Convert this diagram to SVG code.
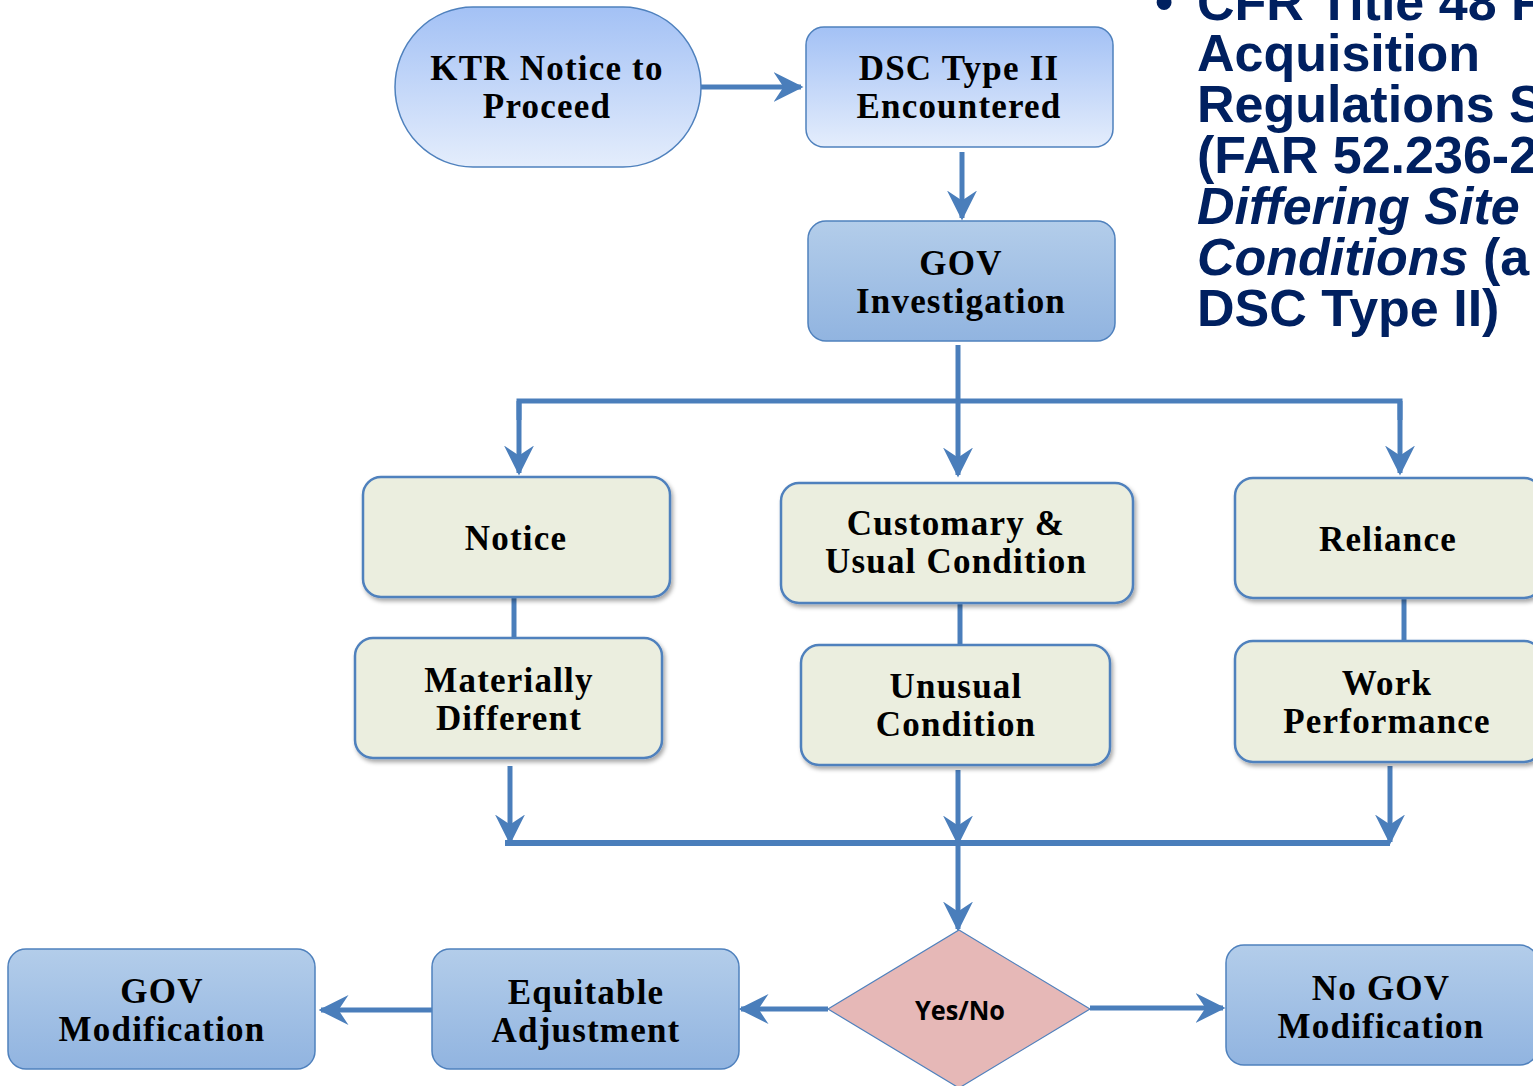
<svg xmlns="http://www.w3.org/2000/svg" width="1533" height="1086" viewBox="0 0 1533 1086">
<defs>
<linearGradient id="gLight" x1="0" y1="0" x2="0" y2="1"><stop offset="0" stop-color="#a3c1f5"/><stop offset="1" stop-color="#e4edfc"/></linearGradient>
<linearGradient id="gDark" x1="0" y1="0" x2="0" y2="1"><stop offset="0" stop-color="#b3cdea"/><stop offset="1" stop-color="#91b4e0"/></linearGradient>
<filter id="shadow" x="-10%" y="-10%" width="125%" height="130%"><feDropShadow dx="2" dy="3" stdDeviation="2" flood-color="#000" flood-opacity="0.35"/></filter>
<marker id="arr" viewBox="0 0 12 12" refX="11" refY="6" markerWidth="6" markerHeight="6" orient="auto" markerUnits="strokeWidth"><path d="M0,0 L12,6 L0,12 L4,6 z" fill="#4a7ebb"/></marker>
</defs>
<style>
.lt{fill:url(#gLight);stroke:#4f81bd;stroke-width:1.5}
.dk{fill:url(#gDark);stroke:#4f81bd;stroke-width:1.5}
.gr{fill:#ebeedf;stroke:#4f81bd;stroke-width:2.5;filter:url(#shadow)}
.t{font-family:"Liberation Serif","Times New Roman",serif;font-weight:bold;font-size:35px;letter-spacing:1.2px;fill:#000;text-anchor:middle}
.c{stroke:#4a7ebb;stroke-width:5;fill:none}
.ca{stroke:#4a7ebb;stroke-width:5;fill:none;marker-end:url(#arr)}
.h{font-family:"Liberation Sans",Arial,sans-serif;font-weight:bold;font-size:52px;fill:#002060}
</style>
<rect width="1533" height="1086" fill="#fff"/>
<g id="connectors">
<line class="ca" x1="701" y1="87" x2="801" y2="87"/>
<line class="ca" x1="962" y1="152" x2="962" y2="218"/>
<line class="c" x1="958" y1="345" x2="958" y2="401"/>
<polyline class="c" points="519,420 519,401 1400,401 1400,420"/>
<line class="ca" x1="519" y1="401" x2="519" y2="473"/>
<line class="ca" x1="958" y1="401" x2="958" y2="475"/>
<line class="ca" x1="1400" y1="401" x2="1400" y2="473"/>
<line class="c" x1="514" y1="597" x2="514" y2="638"/>
<line class="c" x1="960" y1="603" x2="960" y2="645"/>
<line class="c" x1="1404" y1="598" x2="1404" y2="641"/>
<line class="ca" x1="510" y1="766" x2="510" y2="842"/>
<line class="ca" x1="958" y1="770" x2="958" y2="843"/>
<line class="ca" x1="1390" y1="766" x2="1390" y2="842"/>
<line class="c" x1="505" y1="843" x2="1390" y2="843" style="stroke-width:6"/>
<line class="ca" x1="958" y1="843" x2="958" y2="929"/>
<line class="ca" x1="828" y1="1009" x2="741" y2="1009"/>
<line class="ca" x1="432" y1="1010" x2="321" y2="1010"/>
<line class="ca" x1="1090" y1="1008" x2="1223" y2="1008"/>
</g>
<g id="ktr">
<rect class="lt" x="395" y="7" width="306" height="160" rx="78" ry="80"/>
<text class="t" x="547" y="80">KTR Notice to</text>
<text class="t" x="547" y="118">Proceed</text>
</g>
<g id="dsc">
<rect class="lt" x="806" y="27" width="307" height="120" rx="18"/>
<text class="t" x="959" y="80">DSC Type II</text>
<text class="t" x="959" y="118">Encountered</text>
</g>
<g id="govinv">
<rect class="dk" x="808" y="221" width="307" height="120" rx="18"/>
<text class="t" x="961" y="275">GOV</text>
<text class="t" x="961" y="313">Investigation</text>
</g>
<g id="notice">
<rect class="gr" x="363" y="477" width="307" height="120" rx="18"/>
<text class="t" x="516" y="550">Notice</text>
</g>
<g id="customary">
<rect class="gr" x="781" y="483" width="352" height="120" rx="18"/>
<text class="t" x="956" y="535">Customary &amp;</text>
<text class="t" x="956" y="573">Usual Condition</text>
</g>
<g id="reliance">
<rect class="gr" x="1235" y="478" width="307" height="120" rx="18"/>
<text class="t" x="1388" y="551">Reliance</text>
</g>
<g id="materially">
<rect class="gr" x="355" y="638" width="307" height="120" rx="18"/>
<text class="t" x="509" y="692">Materially</text>
<text class="t" x="509" y="730">Different</text>
</g>
<g id="unusual">
<rect class="gr" x="801" y="645" width="309" height="120" rx="18"/>
<text class="t" x="956" y="698">Unusual</text>
<text class="t" x="956" y="736">Condition</text>
</g>
<g id="work">
<rect class="gr" x="1235" y="641" width="307" height="121" rx="18"/>
<text class="t" x="1387" y="695">Work</text>
<text class="t" x="1387" y="733">Performance</text>
</g>
<g id="decision">
<polygon points="959,930 1090,1009 959,1088 828,1009" fill="#e6b8b7" stroke="#4f81bd" stroke-width="1.2"/>
<text x="960" y="1020" font-family="'Open Sans','Liberation Sans',sans-serif" font-weight="bold" font-size="27" text-anchor="middle" fill="#000" textLength="90" lengthAdjust="spacingAndGlyphs">Yes/No</text>
</g>
<g id="equitable">
<rect class="dk" x="432" y="949" width="307" height="120" rx="18"/>
<text class="t" x="586" y="1004">Equitable</text>
<text class="t" x="586" y="1042">Adjustment</text>
</g>
<g id="govmod">
<rect class="dk" x="8" y="949" width="307" height="120" rx="18"/>
<text class="t" x="162" y="1003">GOV</text>
<text class="t" x="162" y="1041">Modification</text>
</g>
<g id="nogov">
<rect class="dk" x="1226" y="945" width="312" height="120" rx="18"/>
<text class="t" x="1381" y="1000">No GOV</text>
<text class="t" x="1381" y="1038">Modification</text>
</g>
<g id="note">
<text class="h" x="1155" y="20">•</text>
<text class="h" x="1197" y="20">CFR Title 48 F</text>
<text class="h" x="1197" y="71">Acquisition</text>
<text class="h" x="1197" y="122">Regulations S</text>
<text class="h" x="1197" y="173">(FAR 52.236-2</text>
<text class="h" x="1197" y="224" font-style="italic">Differing Site</text>
<text class="h" x="1197" y="275"><tspan font-style="italic">Conditions</tspan> (a</text>
<text class="h" x="1197" y="326">DSC Type II)</text>
</g>
</svg>
